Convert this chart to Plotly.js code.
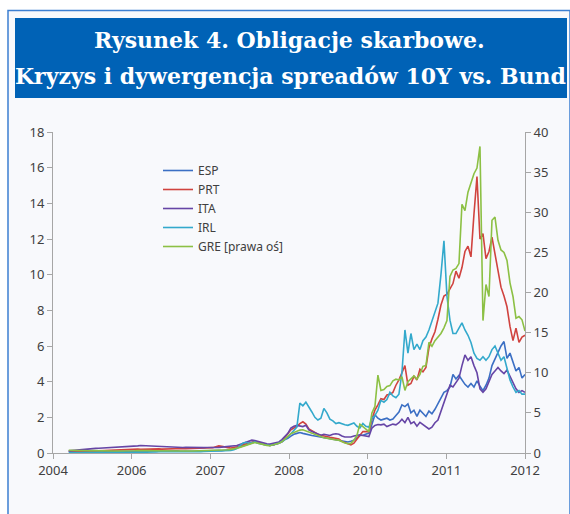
<!DOCTYPE html>
<html>
<head>
<meta charset="utf-8">
<script src="https://cdn.plot.ly/plotly-3.0.1.min.js"></script>
<style>
  html, body { margin: 0; padding: 0; background: #ffffff; }
  #chart { width: 570px; height: 514px; }
</style>
</head>
<body>
<div id="chart"></div>
<script>
// ---- Tick labels of the category-like x axis (as printed on the chart) ----
const xTickLabels = ['2004', '2006', '2007', '2008', '2010', '2011', '2012'];
const xTickPos = [0, 1, 2, 3, 4, 5, 6];

// Sample grid: the series run from just after the first tick to the last tick
const SERIES_START = 0.2;
const SERIES_END = 6.0;

// ---- Series values (10Y spread vs. Bund, p.p.) ----
const ESP = [
0.08,0.07,0.06,0.08,0.07,0.09,0.08,0.07,0.08,0.09,
0.08,0.07,0.08,0.09,0.10,0.09,0.08,0.09,0.10,0.09,
0.08,0.09,0.10,0.11,0.10,0.09,0.10,0.11,0.10,0.09,
0.10,0.11,0.10,0.09,0.10,0.11,0.12,0.11,0.10,0.11,
0.12,0.11,0.10,0.11,0.12,0.13,0.12,0.11,0.12,0.13,
0.14,0.13,0.15,0.16,0.18,0.22,0.28,0.35,0.40,0.45,
0.50,
0.55,0.62,0.58,0.52,0.48,0.45,0.42,0.45,0.50,0.55,
0.62,0.75,0.82,0.95,1.05,1.10,1.15,1.10,1.05,1.00,
0.98,0.95,0.92,0.88,0.85,0.82,0.80,0.76,0.74,0.72,
0.68,0.64,0.62,0.66,0.72,0.85,0.98,1.00,1.05,1.12,
1.60,2.15,1.95,1.85,1.90,1.95,1.85,1.90,2.10,2.30,
2.70,2.60,2.75,2.25,2.40,2.05,2.40,2.20,2.05,2.35,
2.20,2.45,2.75,3.10,3.40,3.50,3.70,4.40,4.15,4.35,
4.10,3.85,3.70,3.90,3.70,4.05,3.75,3.50,3.80,4.20,
4.90,5.30,5.60,6.00,6.25,5.30,5.60,5.10,4.60,4.80,4.20,4.40
];
const PRT = [
0.10,0.09,0.10,0.11,0.10,0.12,0.11,0.12,0.13,0.12,
0.13,0.14,0.15,0.14,0.15,0.16,0.17,0.16,0.17,0.18,
0.19,0.20,0.21,0.22,0.21,0.22,0.23,0.22,0.21,0.22,
0.23,0.22,0.23,0.24,0.23,0.22,0.23,0.24,0.25,0.24,
0.25,0.26,0.25,0.24,0.25,0.26,0.27,0.28,0.30,0.35,
0.40,0.38,0.33,0.30,0.28,0.30,0.35,0.40,0.45,0.50,
0.55,
0.60,0.65,0.60,0.55,0.50,0.45,0.42,0.45,0.50,0.55,
0.65,0.85,1.10,1.30,1.40,1.50,1.65,1.75,1.62,1.35,
1.25,1.15,1.05,1.00,0.95,0.92,0.88,0.85,0.80,0.78,
0.65,0.58,0.50,0.45,0.55,0.80,1.00,1.20,1.18,1.20,
1.90,2.40,2.70,3.05,3.00,3.25,3.30,3.40,3.80,4.10,
4.50,4.90,3.80,3.90,4.30,4.10,4.70,4.55,4.80,5.90,
6.40,6.80,7.50,8.30,8.80,8.90,9.20,9.50,10.20,9.80,
10.40,11.30,11.60,11.00,13.40,15.50,12.00,12.30,10.90,11.30,
12.10,11.20,10.40,9.30,8.80,8.20,7.10,6.30,7.00,6.20,6.50,6.60
];
const ITA = [
0.12,0.14,0.15,0.17,0.18,0.20,0.22,0.24,0.25,0.26,
0.27,0.28,0.28,0.29,0.30,0.30,0.31,0.30,0.32,0.33,
0.34,0.36,0.38,0.40,0.42,0.41,0.40,0.38,0.37,0.36,
0.35,0.36,0.35,0.34,0.33,0.34,0.33,0.32,0.31,0.32,
0.31,0.30,0.31,0.30,0.29,0.30,0.31,0.30,0.31,0.32,
0.31,0.33,0.34,0.35,0.36,0.38,0.42,0.48,0.55,0.62,
0.68,
0.72,0.70,0.65,0.60,0.55,0.52,0.50,0.55,0.58,0.62,
0.75,0.90,1.10,1.40,1.50,1.55,1.52,1.48,1.55,1.30,
1.20,1.12,1.05,1.00,1.05,1.02,0.98,1.05,1.08,1.05,
0.95,0.90,0.88,0.90,0.95,1.00,1.02,0.98,0.95,0.92,
1.40,1.55,1.60,1.58,1.62,1.48,1.55,1.62,1.58,1.70,
1.90,1.70,2.00,1.65,1.75,1.50,1.72,1.60,1.50,1.35,
1.45,1.70,1.85,2.35,2.90,3.30,3.80,3.70,3.95,4.20,
4.90,5.50,5.20,5.40,4.90,4.50,3.60,3.40,3.60,4.00,
4.40,4.60,4.80,4.60,4.45,4.65,4.30,3.90,3.60,3.40,3.50,3.40
];
const IRL = [
0.03,0.02,0.03,0.04,0.03,0.02,0.03,0.04,0.03,0.04,
0.05,0.04,0.03,0.04,0.05,0.04,0.05,0.06,0.05,0.04,
0.05,0.06,0.05,0.06,0.07,0.06,0.05,0.06,0.07,0.06,
0.07,0.06,0.07,0.08,0.07,0.06,0.07,0.08,0.07,0.08,
0.07,0.08,0.09,0.08,0.07,0.08,0.09,0.08,0.09,0.10,
0.09,0.10,0.11,0.12,0.14,0.18,0.25,0.40,0.55,0.60,
0.55,
0.58,0.62,0.55,0.50,0.48,0.45,0.42,0.45,0.50,0.55,
0.65,0.75,0.90,1.10,1.30,1.45,2.80,2.65,2.85,2.60,
2.30,2.00,1.85,1.95,2.50,2.25,1.90,1.80,1.65,1.70,
1.62,1.58,1.55,1.60,1.68,1.50,1.40,1.65,1.50,1.45,
1.95,2.10,2.40,2.95,2.85,3.00,3.40,3.20,3.10,3.30,
4.50,6.90,5.60,6.70,5.80,6.10,5.80,6.30,6.50,6.90,
7.40,8.00,8.40,10.00,11.90,8.80,7.45,6.70,6.70,7.00,
7.30,6.90,6.60,6.20,5.60,5.30,5.20,5.40,5.20,5.40,
5.80,6.00,5.60,5.20,5.40,4.80,4.10,3.70,3.40,3.50,3.30,3.30
];
// Greece is read against the right axis
const GRE = [
0.35,0.33,0.32,0.30,0.31,0.30,0.29,0.28,0.29,0.27,
0.26,0.27,0.25,0.26,0.25,0.24,0.25,0.24,0.23,0.24,
0.25,0.26,0.28,0.30,0.32,0.31,0.30,0.29,0.28,0.27,
0.28,0.27,0.26,0.25,0.26,0.25,0.24,0.25,0.26,0.25,
0.24,0.25,0.26,0.27,0.26,0.25,0.26,0.27,0.28,0.30,
0.32,0.34,0.36,0.40,0.45,0.50,0.60,0.70,0.85,1.00,
1.10,
1.20,1.30,1.20,1.10,1.00,0.95,0.90,1.00,1.10,1.20,
1.40,1.70,2.00,2.40,2.55,2.70,2.85,2.90,2.75,2.60,
2.40,2.25,2.10,2.00,1.90,1.85,1.75,1.70,1.62,1.60,
1.40,1.25,1.15,1.20,1.60,2.20,3.60,3.30,2.90,2.65,
5.00,5.80,9.70,7.80,7.90,8.30,8.40,9.00,9.20,9.10,
9.50,7.80,8.90,9.30,9.60,9.20,9.80,10.80,10.90,13.80,
13.30,14.00,14.50,14.90,15.60,16.50,22.00,22.80,23.00,23.60,
31.00,30.20,32.50,33.60,34.80,35.50,38.20,16.50,21.00,19.50,
29.00,29.40,26.50,25.30,25.00,24.00,21.20,19.50,16.80,17.00,16.60,15.20
];

const seriesNames = ['ESP', 'PRT', 'ITA', 'IRL', 'GRE [prawa oś]'];
const seriesValues = [ESP, PRT, ITA, IRL, GRE];
const seriesColors = ['#3b6fc4', '#d0433f', '#6645a6', '#33a9cc', '#8cc044'];
const seriesAxis = ['y', 'y', 'y', 'y', 'y2'];

function grid(n) {
  const out = [];
  for (let i = 0; i < n; i++) out.push(SERIES_START + i * (SERIES_END - SERIES_START) / (n - 1));
  return out;
}

const traces = seriesValues.map((vals, k) => ({
  type: 'scatter',
  mode: 'lines',
  name: seriesNames[k],
  x: grid(vals.length),
  y: vals,
  yaxis: seriesAxis[k],
  line: { color: seriesColors[k], width: 1.6 },
  hoverinfo: 'x+y+name'
}));

// Pixel helpers for decorations (plot area: 53..525 x, 132..453 y)
const L = 53, R = 45, T = 132, B = 61, W = 570, H = 514;
const PW = W - L - R, PH = H - T - B;
const px = v => (v - L) / PW;
const py = v => (H - B - v) / PH;

const tickFont = { family: 'Noto Sans, sans-serif', size: 13, color: '#404040' };

const layout = {
  width: W, height: H,
  margin: { l: L, r: R, t: T, b: B, pad: 0 },
  paper_bgcolor: '#ffffff',
  plot_bgcolor: 'rgba(0,0,0,0)',
  showlegend: true,
  legend: {
    x: px(158), y: py(156), xanchor: 'left', yanchor: 'top',
    bgcolor: 'rgba(0,0,0,0)',
    font: { family: 'Noto Sans, sans-serif', size: 12, color: '#404040' },
    tracegroupgap: 0
  },
  xaxis: {
    range: [0, 6],
    tickmode: 'array', tickvals: xTickPos, ticktext: xTickLabels,
    showgrid: false, zeroline: false,
    showline: true, linecolor: '#a6a6a6', linewidth: 1,
    ticks: 'outside', ticklen: 5, tickcolor: '#a6a6a6',
    tickfont: tickFont, fixedrange: true
  },
  yaxis: {
    range: [0, 18], dtick: 2, tick0: 0,
    showgrid: false, zeroline: false,
    showline: true, linecolor: '#a6a6a6', linewidth: 1,
    ticks: 'outside', ticklen: 5, tickcolor: '#a6a6a6',
    tickfont: tickFont, fixedrange: true
  },
  yaxis2: {
    range: [0, 40], dtick: 5, tick0: 0,
    overlaying: 'y', side: 'right',
    showgrid: false, zeroline: false,
    showline: true, linecolor: '#a6a6a6', linewidth: 1,
    ticks: 'outside', ticklen: 5, tickcolor: '#a6a6a6',
    tickfont: tickFont, fixedrange: true
  },
  shapes: [
    { type: 'rect', xref: 'paper', yref: 'paper', layer: 'below',
      x0: px(8), x1: px(570), y0: py(530), y1: py(10.5),
      fillcolor: '#f8f9fc', line: { color: '#3d7fd1', width: 1.5 } },
    { type: 'rect', xref: 'paper', yref: 'paper', layer: 'below',
      x0: px(15), x1: px(567), y0: py(98), y1: py(18),
      fillcolor: '#0062b6', line: { width: 0 } }
  ],
  annotations: [
    { xref: 'paper', yref: 'paper', x: px(289), y: py(40), xanchor: 'center', yanchor: 'middle',
      text: 'Rysunek 4. Obligacje skarbowe.', showarrow: false,
      font: { family: 'DejaVu Serif, serif', size: 22, color: '#ffffff', weight: 'bold' } },
    { xref: 'paper', yref: 'paper', x: px(290), y: py(76), xanchor: 'center', yanchor: 'middle',
      text: 'Kryzys i dywergencja spreadów 10Y vs. Bund', showarrow: false,
      font: { family: 'DejaVu Serif, serif', size: 22, color: '#ffffff', weight: 'bold' } }
  ]
};

Plotly.newPlot('chart', traces, layout, { displayModeBar: false, staticPlot: true });
</script>
</body>
</html>
